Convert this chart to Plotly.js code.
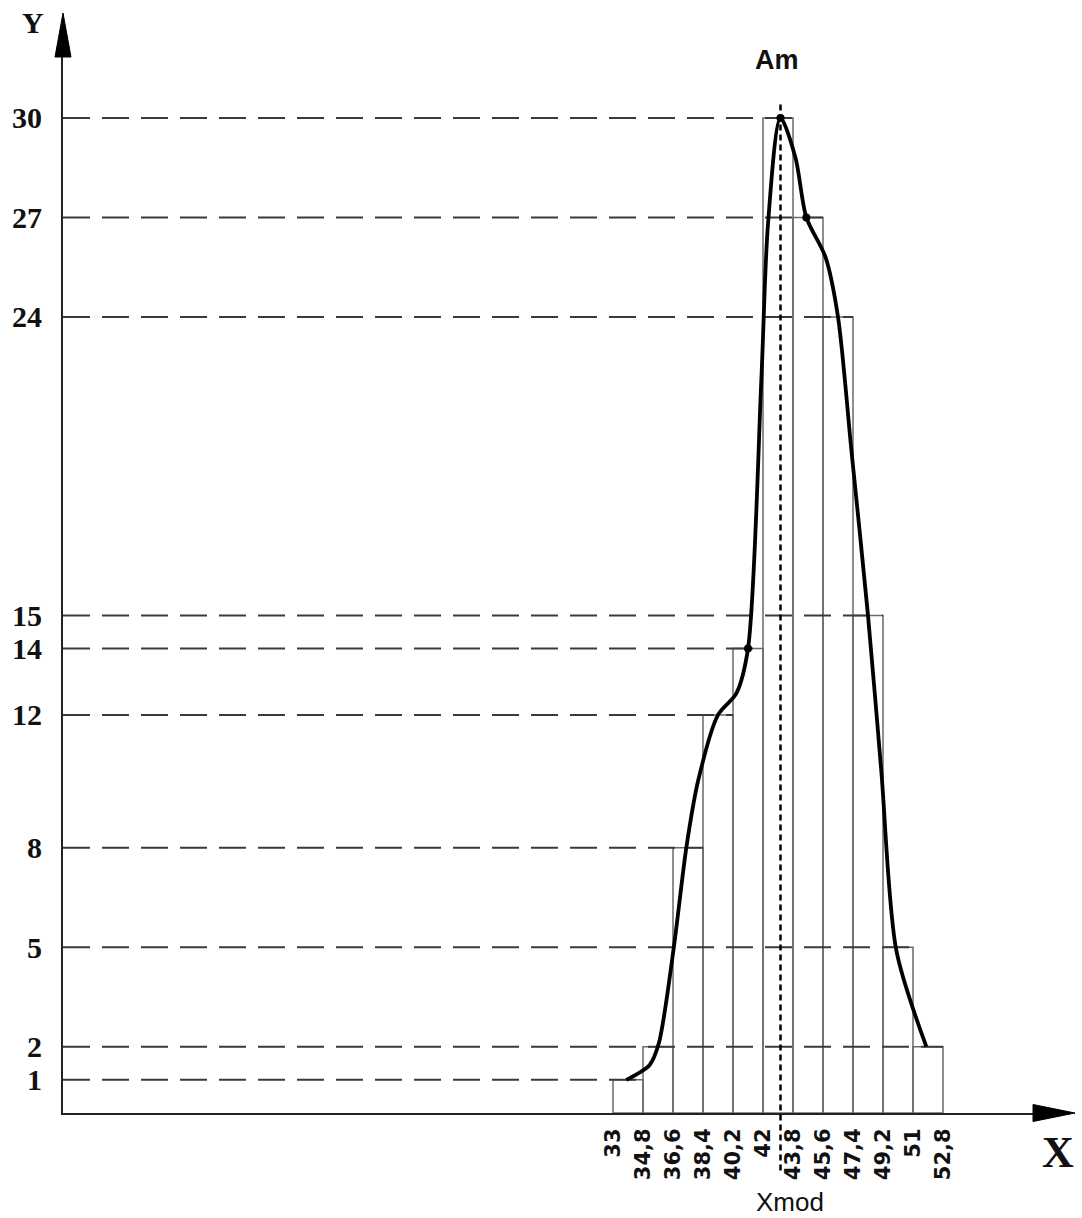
<!DOCTYPE html>
<html><head><meta charset="utf-8">
<script src="https://cdn.plot.ly/plotly-3.0.1.min.js"></script>
<style>html,body{margin:0;padding:0;background:#fff}#chart{width:1082px;height:1218px}</style>
</head><body><div id="chart"></div>
<script>
// ---- data ----
const binEdges = [33, 34.8, 36.6, 38.4, 40.2, 42, 43.8, 45.6, 47.4, 49.2, 51, 52.8];
const binLabels = ['33', '34,8', '36,6', '38,4', '40,2', '42', '43,8', '45,6', '47,4', '49,2', '51', '52,8'];
const frequencies = [1, 2, 8, 12, 14, 30, 27, 24, 15, 5, 2];
const yTicks = [1, 2, 5, 8, 12, 14, 15, 24, 27, 30];
const curveX = [33.8, 35.2, 35.75, 36.65, 37.4, 38.1, 39.3, 40.4, 41.1, 41.9, 42.3, 43.05, 43.95, 44.6, 45.75, 46.5, 47.3, 48.3, 49.1, 50.0, 51.8];
const curveY = [1.0, 1.45, 2.1, 5.0, 8.0, 10.0, 12.0, 12.65, 14.0, 22.1, 26.8, 30.0, 28.8, 27.0, 25.8, 24.0, 20.0, 15.0, 10.3, 4.9, 2.0];
const markedX = [41.1, 43.05, 44.6];
const markedY = [14, 30, 27];
const xMod = 43.05;
const modeLabel = 'Am';
const modeAxisLabel = 'Xmod';

// ---- derived ----
const binWidths = frequencies.map((_, i) => binEdges[i + 1] - binEdges[i]);
const binCenters = frequencies.map((_, i) => (binEdges[i] + binEdges[i + 1]) / 2);
const guideX = [], guideY = [];
yTicks.forEach(h => {
  let right = 0;
  frequencies.forEach((f, i) => { if (f === h) right = Math.max(right, binEdges[i + 1]); });
  guideX.push(0, right, null);
  guideY.push(h, h, null);
});

const X_MAX = 59.82, Y_MAX = 32.65;

const traces = [
  {type: 'bar', x: binCenters, y: frequencies, width: binWidths,
   marker: {color: 'rgba(255,255,255,0)', line: {color: '#6a6a6a', width: 1.5}},
   hoverinfo: 'skip', showlegend: false},
  {type: 'scatter', mode: 'lines', x: guideX, y: guideY,
   line: {color: '#3a3a3a', width: 2, dash: '27px,12px'},
   hoverinfo: 'skip', showlegend: false},
  {type: 'scatter', mode: 'lines', x: curveX, y: curveY,
   line: {color: '#000', width: 3.8, shape: 'spline', smoothing: 0.8},
   hoverinfo: 'skip', showlegend: false},
  {type: 'scatter', mode: 'markers', x: markedX, y: markedY,
   marker: {color: '#000', size: 8}, hoverinfo: 'skip', showlegend: false}
];

const layout = {
  width: 1082, height: 1218,
  margin: {l: 63, r: 22, t: 30, b: 105},
  paper_bgcolor: '#fff', plot_bgcolor: '#fff',
  showlegend: false,
  xaxis: {range: [0, X_MAX], showgrid: false, zeroline: false,
    showline: true, linecolor: '#222', linewidth: 2,
    tickvals: binEdges, ticktext: binLabels, tickangle: -90, ticks: '',
    ticklabelstandoff: 5,
    tickfont: {family: 'DejaVu Sans', size: 21, color: '#111', weight: 'bold'}},
  yaxis: {range: [0, Y_MAX], showgrid: false, zeroline: false,
    showline: true, linecolor: '#222', linewidth: 2,
    tickvals: yTicks, ticks: '', ticklabelstandoff: 13,
    tickfont: {family: 'Liberation Serif', size: 30, color: '#111', weight: 'bold'}},
  shapes: [
    {type: 'line', xref: 'x', yref: 'paper', x0: xMod, x1: xMod,
     y0: -0.053, y1: 30.45 / Y_MAX, line: {color: '#000', width: 2.5, dash: '6px,4px'}},
    {type: 'path', xref: 'paper', yref: 'paper', xsizemode: 'pixel', ysizemode: 'pixel',
     xanchor: 0, yanchor: 1, path: 'M0,17 L-8,-27 L8,-27 Z',
     fillcolor: '#000', line: {color: '#000', width: 1}},
    {type: 'path', xref: 'paper', yref: 'paper', xsizemode: 'pixel', ysizemode: 'pixel',
     xanchor: 1, yanchor: 0, path: 'M15,0 L-27,8.5 L-27,-8.5 Z',
     fillcolor: '#000', line: {color: '#000', width: 1}}
  ],
  annotations: [
    {text: modeLabel, xref: 'x', yref: 'y', x: xMod, y: 31.75, xshift: -4, showarrow: false,
     xanchor: 'center', yanchor: 'middle',
     font: {family: 'Liberation Sans', size: 27, color: '#111', weight: 'bold'}},
    {text: modeAxisLabel, xref: 'x', yref: 'paper', x: xMod, y: -0.0822, xshift: 9, showarrow: false,
     xanchor: 'center', yanchor: 'middle',
     font: {family: 'Liberation Sans', size: 26, color: '#111'}},
    {text: 'Y', xref: 'paper', yref: 'paper', x: -0.030, y: 1.0065, showarrow: false,
     xanchor: 'center', yanchor: 'middle',
     font: {family: 'Liberation Serif', size: 30, color: '#111', weight: 'bold'}},
    {text: 'X', xref: 'paper', yref: 'paper', x: 0.998, y: -0.0369, showarrow: false,
     xanchor: 'center', yanchor: 'middle',
     font: {family: 'Liberation Serif', size: 44, color: '#111', weight: 'bold'}}
  ]
};

Plotly.newPlot('chart', traces, layout, {displayModeBar: false, staticPlot: true});
</script></body></html>
